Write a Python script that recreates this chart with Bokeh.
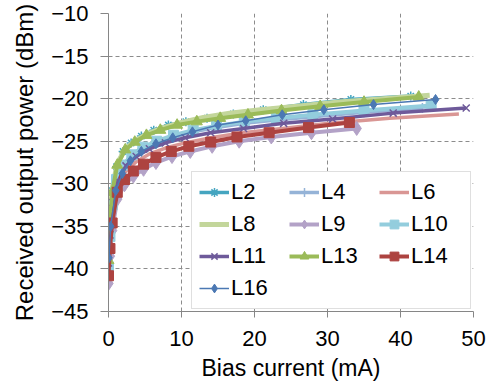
from bokeh.plotting import figure
from bokeh.models import Legend, LegendItem, Range1d, FixedTicker
from bokeh.embed import file_html
from bokeh.resources import INLINE

# ---- data (bias current mA, received power dBm) ----
L2_x = [0.0, 0.2, 0.5, 1.1, 2.0, 3.1, 4.5, 6.2, 8.2, 10.6, 13.5, 17.1, 21.2, 26.7, 33.2, 41.4]
L2_y = [-38.5, -34.0, -30.8, -28.0, -26.2, -25.2, -24.4, -23.7, -23.1, -22.7, -22.3, -21.8, -21.3, -20.7, -20.1, -19.7]
L4_x = [0.0, 0.2, 0.5, 1.1, 2.0, 3.2, 4.7, 6.6, 8.9, 11.6, 14.8, 18.6, 23.0, 28.4, 35.0, 43.0]
L4_y = [-40.2, -36.6, -32.8, -29.8, -28.0, -26.8, -25.9, -25.2, -24.5, -23.9, -23.4, -22.9, -22.5, -22.1, -21.6, -21.1]
L6_x = [0.0, 0.2, 0.6, 1.3, 2.4, 3.8, 5.6, 7.8, 10.5, 14.0, 18.4, 23.8, 30.3, 38.5, 48.0]
L6_y = [-40.0, -36.5, -32.8, -30.2, -28.5, -27.4, -26.5, -25.8, -25.2, -24.6, -24.0, -23.5, -22.9, -22.3, -21.8]
L8_x = [0.0, 0.2, 0.5, 1.2, 2.3, 3.7, 5.4, 7.5, 10.0, 13.0, 16.6, 20.8, 25.8, 31.6, 37.6, 44.0]
L8_y = [-38.8, -34.2, -30.6, -27.6, -25.9, -24.9, -24.1, -23.4, -22.8, -22.2, -21.7, -21.3, -20.9, -20.4, -20.0, -19.6]
L9_x = [0.0, 0.2, 0.5, 1.2, 2.2, 3.4, 4.8, 6.5, 8.7, 11.2, 14.2, 17.9, 22.3, 27.8, 34.0]
L9_y = [-41.7, -38.5, -35.5, -31.8, -30.1, -29.1, -28.3, -27.5, -26.8, -26.2, -25.6, -25.0, -24.5, -24.0, -23.5]
L10_x = [0.0, 0.2, 0.5, 1.1, 2.0, 3.2, 4.7, 6.6, 8.9, 11.6, 14.8, 18.6, 23.0, 28.0, 35.0, 44.2]
L10_y = [-39.8, -36.2, -32.5, -29.5, -27.8, -26.6, -25.7, -25.0, -24.3, -23.7, -23.2, -22.7, -22.3, -21.9, -21.4, -20.8]
L11_x = [0.0, 0.2, 0.6, 1.3, 2.4, 3.8, 5.6, 7.8, 10.5, 14.0, 18.5, 24.0, 30.7, 39.0, 49.0]
L11_y = [-39.3, -36.0, -32.2, -29.7, -27.9, -26.8, -25.9, -25.2, -24.6, -24.0, -23.5, -22.9, -22.4, -21.7, -21.1]
L13_x = [0.0, 0.2, 0.5, 1.2, 2.3, 3.6, 5.2, 7.1, 9.4, 12.1, 15.3, 19.1, 23.7, 29.0, 35.0, 42.5]
L13_y = [-39.0, -34.5, -31.0, -27.8, -26.0, -25.1, -24.3, -23.7, -23.1, -22.7, -22.3, -21.9, -21.4, -20.9, -20.4, -19.8]
L14_x = [0.0, 0.2, 0.5, 1.2, 2.2, 3.4, 4.8, 6.5, 8.6, 11.0, 14.0, 17.6, 22.0, 27.4, 33.0]
L14_y = [-40.8, -37.6, -34.6, -31.0, -29.5, -28.5, -27.7, -26.9, -26.2, -25.6, -25.1, -24.5, -24.0, -23.4, -22.8]
L16_x = [0.05, 0.3, 1.0, 1.9, 3.0, 4.5, 6.5, 8.8, 11.5, 15.0, 18.8, 23.8, 29.5, 36.3, 44.8]
L16_y = [-38.7, -35.0, -30.8, -28.8, -27.3, -26.2, -25.3, -24.6, -23.9, -23.1, -22.6, -21.9, -21.3, -20.7, -20.1]

x_ticks = [0, 10, 20, 30, 40, 50]
y_ticks = [-45, -40, -35, -30, -25, -20, -15, -10]

series = [
    ("L2", L2_x, L2_y, "#45A5C0", 3.5, "asterisk", 9),
    ("L4", L4_x, L4_y, "#95B3D7", 3.5, "cross", 10),
    ("L6", L6_x, L6_y, "#D99694", 3.5, None, 0),
    ("L8", L8_x, L8_y, "#C3D69B", 5.0, None, 0),
    ("L9", L9_x, L9_y, "#B3A2C7", 4.0, "diamond", 14),
    ("L10", L10_x, L10_y, "#93CDDD", 4.0, "square", 10),
    ("L11", L11_x, L11_y, "#6E5A9A", 3.5, "x", 10),
    ("L13", L13_x, L13_y, "#9BBB59", 4.0, "triangle", 11),
    ("L14", L14_x, L14_y, "#AD4340", 4.0, "square", 10),
    ("L16", L16_x, L16_y, "#4B78B3", 1.5, "diamond", 10),
]

FONT = "Liberation Sans"

p = figure(frame_width=365, frame_height=298, output_backend="svg", toolbar_location=None,
           x_range=Range1d(0, 50), y_range=Range1d(-45, -10),
           min_border_left=108, min_border_right=24, min_border_top=13, min_border_bottom=73)
p.outline_line_color = None
p.background_fill_color = "white"
p.border_fill_color = "white"

for ax in (p.xaxis[0], p.yaxis[0]):
    ax.axis_line_color = "#868686"
    ax.major_tick_line_color = "#868686"
    ax.major_tick_in = 0
    ax.minor_tick_line_color = None
    ax.major_label_text_font = FONT
    ax.major_label_text_font_size = "22px"
    ax.major_label_text_color = "black"
    ax.axis_label_text_font = FONT
    ax.axis_label_text_font_style = "normal"
    ax.axis_label_text_color = "black"

p.xaxis.ticker = FixedTicker(ticks=x_ticks)
p.yaxis.ticker = FixedTicker(ticks=y_ticks)
p.xaxis.axis_label = "Bias current (mA)"
p.yaxis.axis_label = "Received output power (dBm)"
p.xaxis.axis_label_text_font_size = "23px"
p.yaxis.axis_label_text_font_size = "24px"
p.xaxis.major_tick_out = 6
p.yaxis.major_tick_out = 8
p.xaxis.major_label_standoff = 13
p.yaxis.major_label_standoff = 12
p.xaxis.axis_label_standoff = 6
p.yaxis.axis_label_standoff = 10

for g in (p.xgrid[0], p.ygrid[0]):
    g.grid_line_color = "#8C8C8C"
    g.grid_line_dash = "4 3"
    g.grid_line_width = 1

items = []
for name, xs, ys, col, lw, mk, ms in series:
    rs = [p.line(xs, ys, line_color=col, line_width=lw)]
    if mk is not None:
        if mk in ("asterisk", "cross", "x"):
            rs.append(p.scatter(xs, ys, marker=mk, size=ms, line_color=col, line_width=1.5))
        else:
            rs.append(p.scatter(xs, ys, marker=mk, size=ms, fill_color=col, line_color=col))
    items.append(LegendItem(label=name, renderers=rs))

legend = Legend(items=items, orientation="horizontal", ncols=3, location=(83, 2),
                label_text_font=FONT, label_text_font_size="22px", label_text_color="black",
                glyph_width=30, glyph_height=22, label_standoff=2, label_width=52,
                spacing=6, padding=7, margin=0,
                border_line_color="#BFBFBF", border_line_width=1,
                background_fill_color="white", background_fill_alpha=1.0)
p.add_layout(legend, "center")

open("out.html", "w").write(file_html(p, INLINE))
